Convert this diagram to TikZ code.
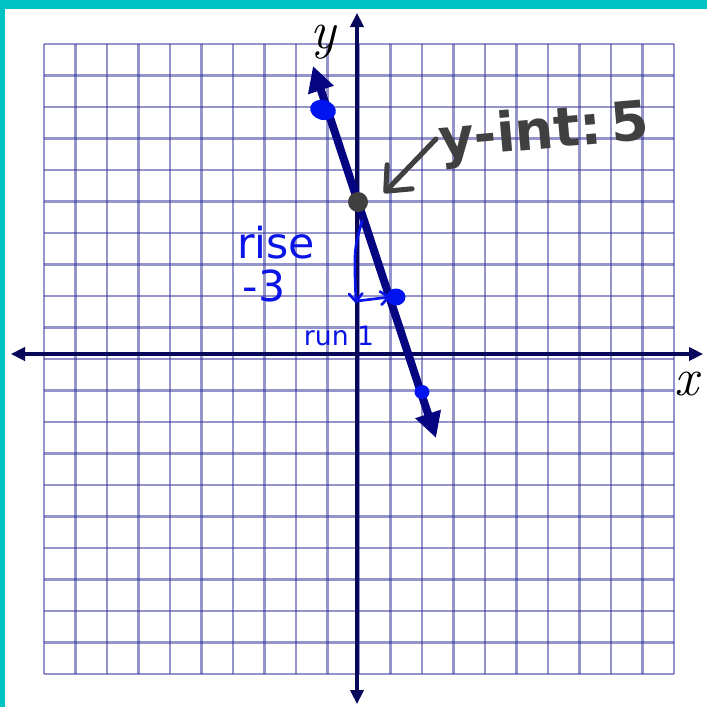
\documentclass[tikz,border=0pt]{standalone}
\usepackage{fontspec}
\newfontfamily\hand{DejaVu Sans}
\usetikzlibrary{arrows.meta}
\definecolor{tealband}{RGB}{0,196,196}
\definecolor{gridc}{RGB}{45,45,155}
\definecolor{axisc}{RGB}{8,8,90}
\definecolor{linec}{RGB}{5,5,130}
\definecolor{dotb}{RGB}{0,20,240}
\definecolor{penb}{RGB}{10,20,230}
\definecolor{peng}{RGB}{64,64,64}
\tikzset{
  gridline/.style={draw=gridc, draw opacity=0.5, line width=2.2pt},
  axisline/.style={draw=axisc, line width=2.3pt, {Triangle[length=10.5pt,width=10pt]}-{Triangle[length=10.5pt,width=10pt]}},
  mainline/.style={draw=linec, line width=6pt, {Triangle[length=19pt,width=19pt]}-{Triangle[length=19pt,width=19pt]}},
  bluedot/.style={fill=dotb, draw=none},
  graydot/.style={fill=peng, draw=none, circle, inner sep=0pt, minimum size=15pt},
  grayarrow/.style={draw=peng, line width=3.8pt, line cap=round, -{Straight Barb[length=15pt,width=26pt,round]}},
  bluepen/.style={draw=penb, line width=2pt, line cap=round, -{Straight Barb[length=6pt,width=10pt,round]}},
  axlabel/.style={font=\fontsize{40}{40}\selectfont\itshape, inner sep=0pt},
  graytext/.style={text=peng, font=\hand\bfseries\fontsize{41}{41}\selectfont, inner sep=0pt},
  bluetext/.style={text=penb, font=\hand\fontsize{32}{32}\selectfont, inner sep=0pt},
  smallbluetext/.style={text=penb, font=\hand\fontsize{20}{20}\selectfont, inner sep=0pt}
}
\begin{document}
\begin{tikzpicture}[x=0.75pt,y=-0.75pt]
\useasboundingbox (0,0) rectangle (707,707);
\fill[white] (0,0) rectangle (707,707);
\fill[tealband] (0,0) rectangle (707,9);
\fill[tealband] (0,0) rectangle (5,707);
% grid
\foreach \i in {0,...,20} {
  \draw[gridline] ({44+31.5*\i},44) -- ({44+31.5*\i},674);
  \draw[gridline] (44,{44+31.5*\i}) -- (674,{44+31.5*\i});
}
% axes
\coordinate (xl) at (11,354);
\coordinate (xr) at (703,354);
\coordinate (yt) at (357,13);
\coordinate (yb) at (357,704);
\draw[axisline] (xl) -- (xr);
\draw[axisline] (yb) -- (yt);
\node[axlabel] (xlab) at (686,384) {x};
\node[axlabel] (ylab) at (323,42) {y};
% main line
\coordinate (ltop) at (313,66);
\coordinate (lbot) at (436,438);
\draw[mainline] (lbot) -- (ltop);
% points
\fill[bluedot, rotate around={-15:(323,110)}] (323,110) ellipse (13 and 10);
\fill[bluedot] (396,297) ellipse (9.5 and 8.5);
\fill[bluedot] (422,392) ellipse (7.5 and 7);
\node[graydot] (yint) at (358,202) {};
% y-int label
\node[graytext, rotate=5] (ylabel) at (544,134) {y-int:\,5};
\coordinate (gstart) at (436,139);
\coordinate (gtip) at (384,193);
\draw[grayarrow] (gstart) -- (gtip);
% rise / run
\node[bluetext] (rise) at (276,243) {rise};
\node[bluetext] (minus) at (264,286) {-3};
\node[smallbluetext] (run) at (339,336) {run 1};
\coordinate (r1) at (362,221);
\coordinate (r2) at (356,303);
\coordinate (s2) at (390,297);
\draw[bluepen] (r1) .. controls (354,250) .. (r2);
\draw[bluepen] (357,301) -- (s2);
\end{tikzpicture}
\end{document}
